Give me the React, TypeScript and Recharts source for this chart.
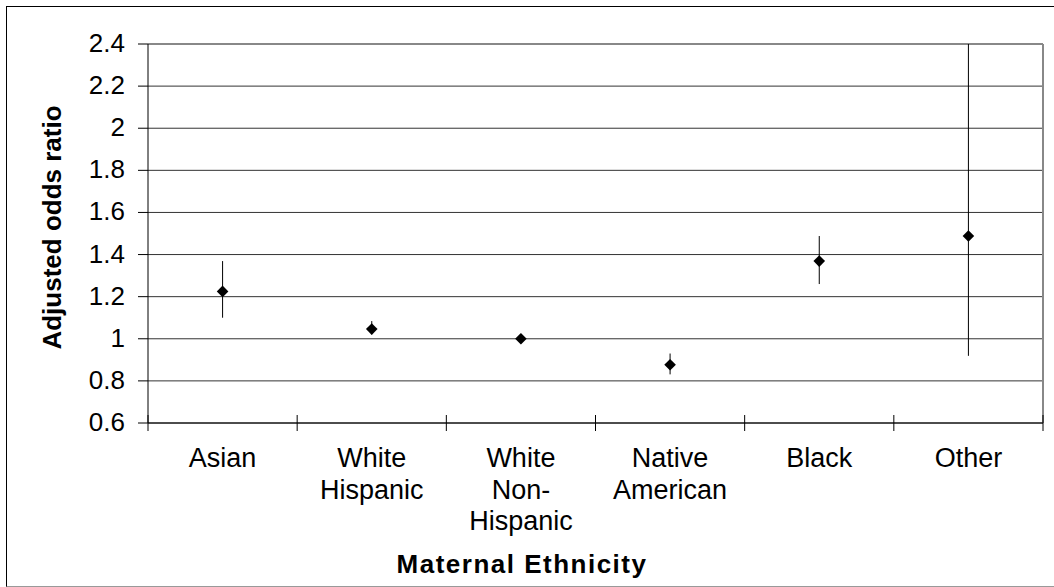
import {
  ComposedChart,
  Scatter,
  ErrorBar,
  XAxis,
  YAxis,
  CartesianGrid,
  ReferenceLine,
  Label,
} from 'recharts'

const FONT = '"Liberation Sans", Arial, Helvetica, sans-serif'

// maternal ethnicity groups, multi-line labels split on \n
const categories = [
  'Asian',
  'White\nHispanic',
  'White\nNon-\nHispanic',
  'Native\nAmerican',
  'Black',
  'Other',
]

// adjusted odds ratios with 95% confidence limits
const oddsRatio = [1.225, 1.046, 1.0, 0.877, 1.369, 1.488]
const ciLower = [1.1, 1.021, 1.0, 0.831, 1.26, 0.919]
const ciUpper = [1.369, 1.084, 1.0, 0.93, 1.488, 2.4]

const yTicks = [0.6, 0.8, 1, 1.2, 1.4, 1.6, 1.8, 2, 2.2, 2.4]
const boundaryTicks = [0, 1, 2, 3, 4, 5, 6]

const data = categories.map((name, i) => ({
  name,
  pos: i + 0.5,
  or: oddsRatio[i],
  ci: [oddsRatio[i] - ciLower[i], ciUpper[i] - oddsRatio[i]],
}))

const Diamond = ({ cx, cy }: any) => {
  const r = 5.8
  return (
    <path
      d={`M${cx},${cy - r}L${cx + r},${cy}L${cx},${cy + r}L${cx - r},${cy}Z`}
      fill="#000"
    />
  )
}

const NoLabel = () => <g />

const YTick = ({ x, y, payload }: any) => (
  <text
    x={x}
    y={y}
    dy={8}
    textAnchor="end"
    fontFamily={FONT}
    fontSize={26}
    fill="#000"
  >
    {String(payload.value)}
  </text>
)

const CategoryTick = ({ x, y, payload }: any) => {
  const lines = String(payload.value).split('\n')
  return (
    <text x={x} y={y} textAnchor="middle" fontFamily={FONT} fontSize={27} fill="#000">
      {lines.map((line, i) => (
        <tspan key={i} x={x} dy={i === 0 ? 36 : 31.7}>
          {line}
        </tspan>
      ))}
    </text>
  )
}

const YTitle = ({ viewBox }: any) => {
  const cy = viewBox.y + viewBox.height / 2 - 6
  return (
    <text
      x={61}
      y={cy}
      transform={`rotate(-90, 61, ${cy})`}
      textAnchor="middle"
      fontFamily={FONT}
      fontSize={26}
      fontWeight="bold"
      fill="#000"
    >
      Adjusted odds ratio
    </text>
  )
}

const XTitle = ({ viewBox }: any) => (
  <text
    x={522}
    y={viewBox.y + 142}
    textAnchor="middle"
    fontFamily={FONT}
    fontSize={26}
    fontWeight="bold"
    letterSpacing={1.5}
    fill="#000"
  >
    Maternal Ethnicity
  </text>
)

export default function App() {
  return (
    <div style={{ position: 'absolute', left: 0, top: 0, width: 1054, height: 587, background: '#fff', overflow: 'hidden' }}>
      <div
        style={{
          position: 'absolute',
          left: 6,
          top: 6,
          width: 1100,
          height: 579,
          borderTop: '1.5px solid #000',
          borderLeft: '1.5px solid #000',
          borderBottom: '1.5px solid #999',
        }}
      />
      <ComposedChart
        width={1054}
        height={587}
        data={data}
        margin={{ top: 44, right: 11, bottom: 0, left: 0 }}
        style={{ position: 'absolute', left: 0, top: 0 }}
      >
        <CartesianGrid vertical={false} stroke="#333" />
        {/* category boundary ticks, shifted up so they cross the axis */}
        <XAxis
          xAxisId={0}
          type="number"
          dataKey="pos"
          domain={[0, 6]}
          ticks={boundaryTicks}
          interval={0}
          height={8}
          tick={<NoLabel />}
          tickSize={16}
          tickLine={{ stroke: '#000', transform: 'translate(0,-8)' }}
          axisLine={{ stroke: '#000' }}
        />
        <XAxis
          xAxisId="cat"
          type="category"
          scale="band"
          dataKey="name"
          height={156}
          tickSize={0}
          tickMargin={0}
          tickLine={false}
          axisLine={false}
          tick={<CategoryTick />}
          interval={0}
        >
          <Label content={<XTitle />} />
        </XAxis>
        <YAxis
          type="number"
          domain={[0.6, 2.4]}
          ticks={yTicks}
          width={148}
          tickSize={10}
          tickMargin={13}
          tick={<YTick />}
          tickLine={{ stroke: '#000' }}
          axisLine={{ stroke: '#000' }}
        >
          <Label content={<YTitle />} />
        </YAxis>
        <ReferenceLine y={2.4} stroke="#888" strokeWidth={2} />
        <ReferenceLine x={6} stroke="#888" strokeWidth={2} />
        <Scatter dataKey="or" shape={<Diamond />} isAnimationActive={false}>
          <ErrorBar dataKey="ci" direction="y" width={0} stroke="#000" strokeWidth={1} />
        </Scatter>
      </ComposedChart>
    </div>
  )
}
